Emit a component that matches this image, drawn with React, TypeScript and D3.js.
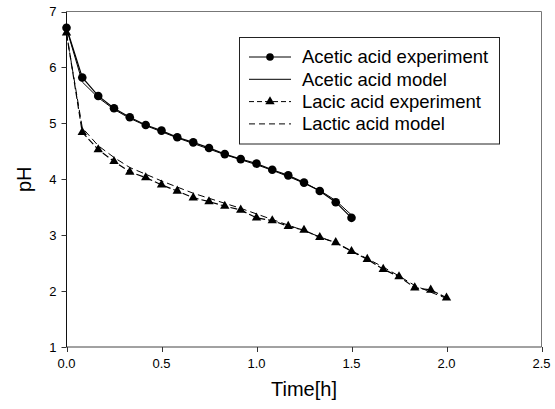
import React from "react";
import * as d3 from "d3";

// time in hours (5 min steps)
const aceticTime = [0, 0.083, 0.167, 0.25, 0.333, 0.417, 0.5, 0.583, 0.667, 0.75, 0.833, 0.917, 1.0, 1.083, 1.167, 1.25, 1.333, 1.417, 1.5];
const aceticExp = [6.71, 5.82, 5.49, 5.27, 5.11, 4.97, 4.87, 4.75, 4.66, 4.56, 4.45, 4.36, 4.28, 4.17, 4.07, 3.94, 3.79, 3.59, 3.31];
const aceticModel = [6.7, 5.74, 5.46, 5.25, 5.09, 4.96, 4.85, 4.74, 4.64, 4.54, 4.44, 4.35, 4.26, 4.16, 4.05, 3.93, 3.8, 3.62, 3.36];

const lacticTime = [0, 0.083, 0.167, 0.25, 0.333, 0.417, 0.5, 0.583, 0.667, 0.75, 0.833, 0.917, 1.0, 1.083, 1.167, 1.25, 1.333, 1.417, 1.5, 1.583, 1.667, 1.75, 1.833, 1.917, 2.0];
const lacticExp = [6.62, 4.84, 4.53, 4.32, 4.13, 4.03, 3.9, 3.79, 3.67, 3.6, 3.52, 3.45, 3.31, 3.26, 3.16, 3.09, 2.96, 2.87, 2.71, 2.57, 2.39, 2.26, 2.06, 2.02, 1.88];
const lacticModel = [6.6, 4.92, 4.6, 4.39, 4.21, 4.09, 3.97, 3.86, 3.75, 3.66, 3.57, 3.48, 3.38, 3.28, 3.18, 3.08, 2.97, 2.86, 2.72, 2.58, 2.43, 2.27, 2.1, 1.98, 1.87];

const xTicks = [0, 0.5, 1.0, 1.5, 2.0, 2.5];
const yTicks = [1, 2, 3, 4, 5, 6, 7];
const legendLabels = ["Acetic acid experiment", "Acetic acid model", "Lacic acid experiment", "Lactic acid model"];

const font = "'Liberation Sans', Arial, sans-serif";

export default function App() {
  const margin = { top: 11.5, right: 13.5, bottom: 62, left: 66.5 };
  const W = 555, H = 409;
  const x = d3.scaleLinear().domain([0, 2.5]).range([margin.left, W - margin.right]);
  const y = d3.scaleLinear().domain([1, 7]).range([H - margin.bottom, margin.top]);

  const line = d3.line<[number, number]>().x(d => x(d[0])).y(d => y(d[1]));
  const pts = (t: number[], v: number[]) => t.map((d, i) => [d, v[i]] as [number, number]);

  const tri = d3.symbol().type(d3.symbolTriangle).size(38)();

  const x0 = x.range()[0], x1 = x.range()[1];
  const y0 = y.range()[0], y1 = y.range()[1];

  // legend
  const lg = { x: 239.5, y: 37.5, w: 260, h: 106.5, row0: 57, dy: 22.3 };

  return (
    <svg width={W} height={H} style={{ position: "absolute", left: 0, top: 0 }} fontFamily={font}>
      <rect width={W} height={H} fill="#fff" />
      {/* frame */}
      <line x1={x0} x2={x1} y1={y1} y2={y1} stroke="#777" />
      <line x1={x1} x2={x1} y1={y1} y2={y0} stroke="#777" />
      <line x1={x0} x2={x1} y1={y0} y2={y0} stroke="#444" />
      <line x1={x0} x2={x0} y1={y1} y2={y0} stroke="#111" />

      {yTicks.map(t => (
        <g key={"y" + t}>
          <line x1={x0 - 5} x2={x0} y1={Math.round(y(t)) + 0.5} y2={Math.round(y(t)) + 0.5} stroke="#333" />
          <text x={x0 - 10} y={y(t)} dy="0.35em" textAnchor="end" fontSize={13}>{t}</text>
        </g>
      ))}
      {xTicks.map(t => (
        <g key={"x" + t}>
          <line x1={Math.round(x(t)) + 0.5} x2={Math.round(x(t)) + 0.5} y1={y0} y2={y0 + 5} stroke="#333" />
          <text x={x(t)} y={y0 + 21} textAnchor="middle" fontSize={13}>{t.toFixed(1)}</text>
        </g>
      ))}

      <text x={(x0 + x1) / 2} y={H - 13} textAnchor="middle" fontSize={20}>Time[h]</text>
      <text transform={`translate(31,${(y0 + y1) / 2}) rotate(-90)`} textAnchor="middle" fontSize={20}>pH</text>

      {/* acetic model, solid */}
      <path d={line(pts(aceticTime, aceticModel)) || ""} fill="none" stroke="#000" strokeWidth={1} />
      {/* acetic experiment */}
      <path d={line(pts(aceticTime, aceticExp)) || ""} fill="none" stroke="#000" strokeWidth={1.2} />
      {/* lactic model, dashed */}
      <path d={line(pts(lacticTime, lacticModel)) || ""} fill="none" stroke="#000" strokeWidth={1} strokeDasharray="7,4" />
      {/* lactic experiment */}
      <path d={line(pts(lacticTime, lacticExp)) || ""} fill="none" stroke="#000" strokeWidth={1.2} strokeDasharray="7,3" />

      {aceticTime.map((t, i) => (
        <circle key={"c" + i} cx={x(t)} cy={y(aceticExp[i])} r={4.3} fill="#000" />
      ))}
      {lacticTime.map((t, i) => (
        <path key={"t" + i} d={tri || ""} transform={`translate(${x(t)},${y(lacticExp[i])})`} fill="#000" />
      ))}

      <g>
        <rect x={lg.x} y={lg.y} width={lg.w} height={lg.h} fill="#fff" stroke="#222" />
        {legendLabels.map((l, i) => {
          const ly = lg.row0 + i * lg.dy;
          const dash = i === 2 ? "5,3" : i === 3 ? "6,4" : undefined;
          return (
            <g key={l}>
              <line x1={249} x2={291} y1={ly} y2={ly} stroke="#000" strokeDasharray={dash} />
              {i === 0 && <circle cx={270} cy={ly} r={3.8} fill="#000" />}
              {i === 2 && <path d={tri || ""} transform={`translate(270,${ly})`} fill="#000" />}
              <text x={302} y={ly} dy="0.35em" fontSize={18.5}>{l}</text>
            </g>
          );
        })}
      </g>
    </svg>
  );
}
